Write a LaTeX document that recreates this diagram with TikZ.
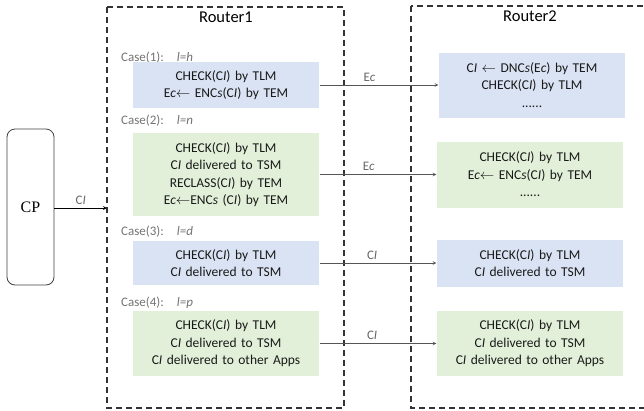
\documentclass[tikz,border=0pt]{standalone}
\usepackage{fontspec}
\setmainfont{Carlito}
\newfontfamily\cpfont{Liberation Serif}
\usetikzlibrary{arrows}
\definecolor{caseblue}{HTML}{DAE3F3}
\definecolor{casegreen}{HTML}{E2F0D9}
\definecolor{linegray}{HTML}{555555}
\tikzstyle{router} = [rectangle, draw=black!80, line width=1.2pt, dash pattern=on 6pt off 4pt]
\tikzstyle{bluebox} = [rectangle, minimum width=182pt, text width=180pt, align=center, fill=caseblue, draw=none, font=\fontsize{13.5}{17.5}\selectfont, text=black!90]
\tikzstyle{greenbox} = [bluebox, fill=casegreen]
\tikzstyle{caselabel} = [anchor=west, inner sep=0pt, text=black!55, font=\fontsize{13}{15}\selectfont]
\tikzstyle{arrow} = [->, >=stealth, draw=linegray, line width=0.7pt]
\tikzstyle{msg} = [above, text=black!60, font=\fontsize{13}{15}\selectfont]
\newcommand{\ci}{C\textit{I}}
\newcommand{\ec}{E\textit{c}}

\begin{document}
\begin{tikzpicture}[x=1pt, y=-1pt]
					\useasboundingbox (0,0) rectangle (644,410);
					% routers
					\draw[router] (107,7) rectangle (344,408);
					\draw[router] (411,6) rectangle (660,408);
					\node[font=\fontsize{16.5}{18}\selectfont] (r1) at (226,17) {Router1};
					\node[font=\fontsize{16.5}{18}\selectfont] (r2) at (530,16) {Router2};
					% content provider
					\node[rectangle, rounded corners=8pt, draw=black!75, line width=0.8pt, minimum width=47pt, minimum height=156pt, font=\cpfont\fontsize{16}{18}\selectfont] (cp) at (30.5,207) {CP};
					\coordinate (in) at (107,208);
					\draw[->, >=stealth, line width=0.8pt] (cp.east |- in) -- node[msg, pos=0.5] {\ci} (in);
					% cases in Router1
					\node[caselabel] (case1) at (121,58) {Case(1):\quad\textit{l=h}};
					\node[bluebox, minimum height=46pt] (a1) at (226,85) {CHECK(\ci) by TLM\\ \ec$\leftarrow$ ENC\textit{s}(\ci) by TEM};
					\node[caselabel] (case2) at (121,121) {Case(2):\quad\textit{l=n}};
					\node[greenbox, minimum height=83pt] (a2) at (226,174.5) {CHECK(\ci) by TLM\\ \ci{} delivered to TSM\\ RECLASS(\ci) by TEM\\ \ec$\leftarrow$ENC\textit{s} (\ci) by TEM};
					\node[caselabel] (case3) at (121,232) {Case(3):\quad\textit{l=d}};
					\node[bluebox, minimum height=44pt] (a3) at (226,263) {CHECK(\ci) by TLM\\ \ci{} delivered to TSM};
					\node[caselabel] (case4) at (121,303) {Case(4):\quad\textit{l=p}};
					\node[greenbox, minimum height=65pt] (a4) at (226,343.5) {CHECK(\ci) by TLM\\ \ci{} delivered to TSM\\ \ci{} delivered to other Apps};
					% cases in Router2
					\node[bluebox, minimum height=65pt] (b1) at (532,85) {\ci{} $\leftarrow$ DNC\textit{s}(\ec) by TEM\\ CHECK(\ci) by TLM\\ ......};
					\node[greenbox, minimum height=66pt] (b2) at (530,174.5) {CHECK(\ci) by TLM\\ \ec$\leftarrow$ ENC\textit{s}(\ci) by TEM\\ ......};
					\node[bluebox, minimum height=47pt] (b3) at (530,263) {CHECK(\ci) by TLM\\ \ci{} delivered to TSM};
					\node[greenbox, minimum height=65pt] (b4) at (530,343.5) {CHECK(\ci) by TLM\\ \ci{} delivered to TSM\\ \ci{} delivered to other Apps};
					% forwarding
					\draw[arrow] (a1) -- node[msg, pos=0.42] {\ec} (b1);
					\draw[arrow] (a2) -- node[msg, pos=0.42] {\ec} (b2);
					\draw[arrow] (a3) -- node[msg, pos=0.45] {\ci} (b3);
					\draw[arrow] (a4) -- node[msg, pos=0.45] {\ci} (b4);
				\end{tikzpicture}
\end{document}
